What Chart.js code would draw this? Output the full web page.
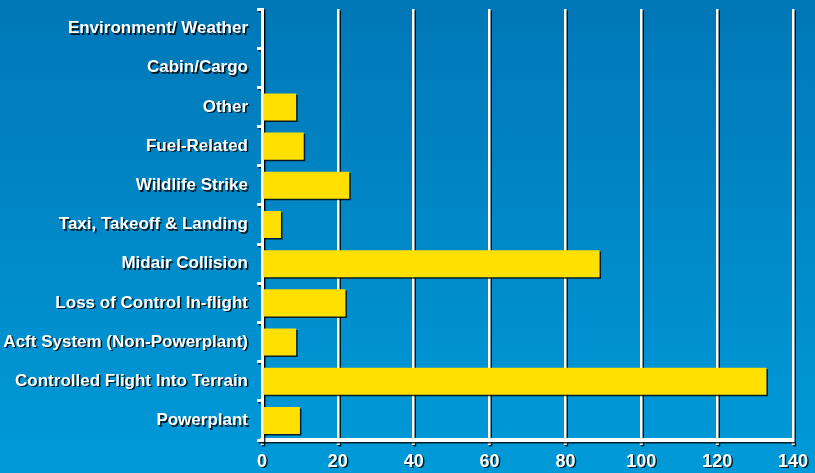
<!DOCTYPE html>
<html>
<head>
<meta charset="utf-8">
<script src="https://cdn.jsdelivr.net/npm/chart.js@4/dist/chart.umd.min.js"></script>
<style>
  html, body { margin: 0; padding: 0; }
  #wrap {
    width: 815px; height: 473px;
    background: linear-gradient(to bottom, #0077b7, #009ad9);
  }
</style>
</head>
<body>
<div id="wrap"><canvas id="c" width="815" height="473"></canvas></div>
<script>
const categories = [
  'Environment/ Weather',
  'Cabin/Cargo',
  'Other',
  'Fuel-Related',
  'Wildlife Strike',
  'Taxi, Takeoff & Landing',
  'Midair Collision',
  'Loss of Control In-flight',
  'Acft System (Non-Powerplant)',
  'Controlled Flight Into Terrain',
  'Powerplant'
];
const counts = [0, 0, 9, 11, 23, 5, 89, 22, 9, 133, 10];
const xTicks = [0, 20, 40, 60, 80, 100, 120, 140];

// drop shadow on everything the chart draws
const shadow = {
  id: 'shadow',
  beforeDraw(chart) {
    const ctx = chart.ctx;
    ctx.shadowColor = 'rgba(0,0,0,0.8)';
    ctx.shadowOffsetX = 1.5;
    ctx.shadowOffsetY = 1.5;
    ctx.shadowBlur = 0;
  },
  afterDraw(chart) {
    chart.ctx.shadowColor = 'transparent';
  }
};

const font = { family: 'Liberation Sans, Arial, sans-serif', weight: 'bold' };

new Chart(document.getElementById('c').getContext('2d'), {
  type: 'bar',
  data: {
    labels: categories,
    datasets: [{
      data: counts,
      backgroundColor: '#ffe000',
      borderWidth: 0,
      barPercentage: 0.69,
      categoryPercentage: 1
    }]
  },
  plugins: [shadow],
  options: {
    indexAxis: 'y',
    responsive: false,
    animation: false,
    layout: { padding: { top: 9, right: 22, left: 0, bottom: 0 } },
    plugins: { legend: { display: false }, tooltip: { enabled: false } },
    scales: {
      x: {
        min: 0, max: 140,
        afterBuildTicks: axis => { axis.ticks = xTicks.map(v => ({ value: v })); },
        afterFit: axis => { axis.height = 33; },
        grid: { color: '#ffffff', lineWidth: 2.5, tickLength: 5, tickColor: '#ffffff', tickWidth: 3 },
        border: { color: '#ffffff', width: 4 },
        ticks: { color: '#ffffff', padding: 6, font: { ...font, size: 18 } }
      },
      y: {
        afterFit: axis => {
          axis.width = 262;
          axis.paddingTop = 0;
          axis.paddingBottom = 0;
        },
        grid: { drawOnChartArea: false, color: '#ffffff', tickLength: 5, lineWidth: 3, offset: true },
        border: { color: '#ffffff', width: 3 },
        ticks: { color: '#ffffff', padding: 9, font: { ...font, size: 17 } }
      }
    }
  }
});
</script>
</body>
</html>
